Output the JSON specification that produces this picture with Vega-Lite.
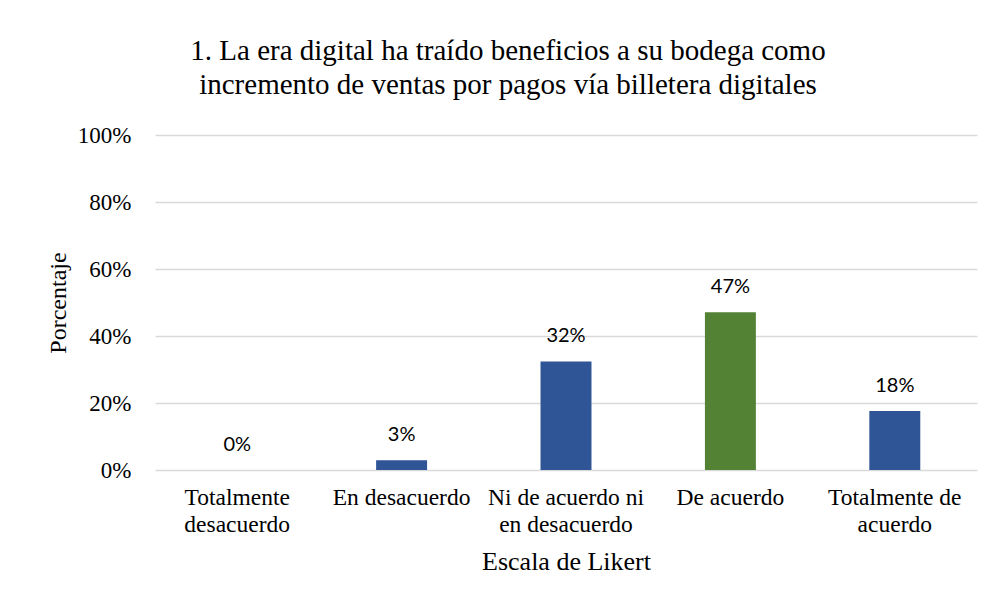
{
  "$schema": "https://vega.github.io/schema/vega-lite/v6.json",
  "width": 822,
  "height": 335,
  "autosize": {"type": "none"},
  "padding": {"left": 155, "top": 135, "right": 16, "bottom": 134},
  "background": "white",
  "title": {
    "text": ["1. La era digital ha traído beneficios a su bodega como", "incremento de ventas por pagos vía billetera digitales"],
    "font": "Liberation Serif",
    "fontSize": 29,
    "fontWeight": "normal",
    "color": "#000000",
    "lineHeight": 34,
    "anchor": "middle",
    "frame": "group",
    "dx": -58,
    "offset": 24
  },
  "data": {
    "values": [
      {"categoria": "Totalmente desacuerdo", "porcentaje": 0, "grupo": "a"},
      {"categoria": "En desacuerdo", "porcentaje": 0.029, "grupo": "a"},
      {"categoria": "Ni de acuerdo ni en desacuerdo", "porcentaje": 0.324, "grupo": "a"},
      {"categoria": "De acuerdo", "porcentaje": 0.471, "grupo": "b"},
      {"categoria": "Totalmente de acuerdo", "porcentaje": 0.176, "grupo": "a"}
    ]
  },
  "encoding": {
    "x": {
      "field": "categoria",
      "type": "nominal",
      "sort": null,
      "scale": {"paddingInner": 0.69, "paddingOuter": 0.345},
      "axis": {
        "title": "Escala de Likert",
        "titleFont": "Liberation Serif",
        "titleFontSize": 26,
        "titleFontWeight": "normal",
        "titleColor": "#000000",
        "titlePadding": 13,
        "labelFont": "Liberation Serif",
        "labelFontSize": 23.5,
        "labelColor": "#000000",
        "labelAngle": 0,
        "labelPadding": 27,
        "labelLineHeight": 27,
        "labelBaseline": "middle",
        "labelExpr": "datum.value == 'Totalmente desacuerdo' ? ['Totalmente', 'desacuerdo'] : datum.value == 'Ni de acuerdo ni en desacuerdo' ? ['Ni de acuerdo ni', 'en desacuerdo'] : datum.value == 'Totalmente de acuerdo' ? ['Totalmente de', 'acuerdo'] : datum.value",
        "ticks": false,
        "domain": false,
        "grid": false
      }
    },
    "y": {
      "field": "porcentaje",
      "type": "quantitative",
      "scale": {"domain": [0, 1], "nice": false},
      "axis": {
        "title": "Porcentaje",
        "titleFont": "Liberation Serif",
        "titleFontSize": 24,
        "titleFontWeight": "normal",
        "titleColor": "#000000",
        "titlePadding": 7,
        "labelFont": "Liberation Serif",
        "labelFontSize": 23,
        "labelColor": "#000000",
        "labelPadding": 24,
        "format": ".0%",
        "values": [0, 0.2, 0.4, 0.6, 0.8, 1],
        "ticks": false,
        "domain": false,
        "grid": true,
        "gridColor": "#d9d9d9",
        "gridWidth": 1.5
      }
    }
  },
  "layer": [
    {
      "mark": {"type": "bar"},
      "encoding": {
        "color": {
          "field": "grupo",
          "type": "nominal",
          "scale": {"domain": ["a", "b"], "range": ["#2F5597", "#548235"]},
          "legend": null
        }
      }
    },
    {
      "mark": {"type": "text", "font": "Lato", "fontSize": 20, "color": "#000000", "baseline": "middle", "dy": -25},
      "encoding": {
        "text": {"field": "porcentaje", "type": "quantitative", "format": ".0%"}
      }
    }
  ],
  "config": {
    "view": {"stroke": null}
  }
}
